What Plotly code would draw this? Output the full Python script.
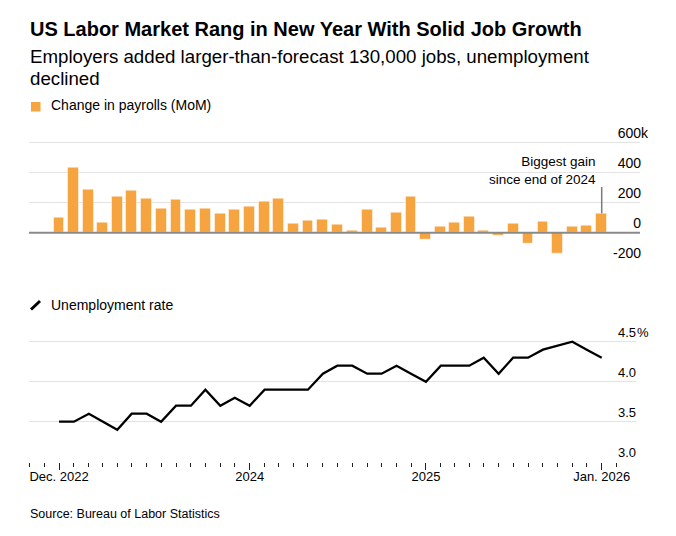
import pandas as pd
import plotly.graph_objects as go

# ---------------- data ----------------
months = pd.date_range("2022-12-01", "2026-01-01", freq="MS")
payrolls_k = [98, 433, 289, 67, 240, 280, 224, 162, 218, 156, 158, 124,
              153, 173, 207, 229, 62, 78, 87, 51, 11, 156, 33, 133,
              238, -47, 42, 67, 107, 13, -20, 62, -73, 76, -140, 40,
              49, 130]
unemployment = [3.5, 3.5, 3.6, 3.5, 3.4, 3.6, 3.6, 3.5, 3.7, 3.7, 3.9, 3.7,
                3.8, 3.7, 3.9, 3.9, 3.9, 3.9, 4.1, 4.2, 4.2, 4.1, 4.1, 4.2,
                4.1, 4.0, 4.2, 4.2, 4.2, 4.3, 4.1, 4.3, 4.3, 4.4, None, 4.5,
                4.4, 4.3]
bar_ticks = [-200, 0, 200, 400, 600]
bar_ticktext = ["-200", "0", "200", "400", "600"]
bar_suffix = "k"
rate_ticks = [3.0, 3.5, 4.0, 4.5]
rate_ticktext = ["3.0", "3.5", "4.0", "4.5"]
rate_suffix = "%"
x_tickvals = ["2022-12-01", "2024-01-01", "2025-01-01", "2026-01-01"]
x_ticktext = ["Dec. 2022", "2024", "2025", "Jan. 2026"]

title = "US Labor Market Rang in New Year With Solid Job Growth"
subtitle1 = "Employers added larger-than-forecast 130,000 jobs, unemployment"
subtitle2 = "declined"
legend_bar = "Change in payrolls (MoM)"
legend_line = "Unemployment rate"
note = "Biggest gain<br>since end of 2024"
source = "Source: Bureau of Labor Statistics"

# ---------------- layout helpers ----------------
W, H = 676, 536
FONT = "Liberation Sans, Arial, Helvetica, sans-serif"
ORANGE = "#F5A43F"


def px_x(px):
    return px / W


def px_y(py):
    return 1 - py / H


# payroll panel: -200 gridline at 262.7px, 600 gridline at 142.7px
bar_range = [-203, 720]
bar_ppu = (262.7 - 142.7) / 800.0
bar_top_px = 142.7 - (bar_range[1] - 600) * bar_ppu
bar_bot_px = 262.7 + (-200 - bar_range[0]) * bar_ppu

# rate panel: 3.0 gridline at 461.7px, 4.5 gridline at 341.7px
rate_range = [3.0, 4.72]
rate_ppu = (461.7 - 341.7) / 1.5
rate_top_px = 341.7 - (rate_range[1] - 4.5) * rate_ppu
rate_bot_px = 461.7

DAY_MS = 86400000
px_per_day = (601.7 - 59.0) / 1127.0
LEFT = 29.0
x0 = pd.Timestamp("2022-12-01") - pd.Timedelta(days=(59.0 - LEFT) / px_per_day)
x1_bar = pd.Timestamp("2026-01-01") + pd.Timedelta(days=(640.0 - 601.7) / px_per_day)
x1_line = pd.Timestamp("2026-01-01") + pd.Timedelta(days=(636.0 - 601.7) / px_per_day)

fig = go.Figure()

fig.add_trace(go.Bar(
    x=months, y=payrolls_k, xaxis="x", yaxis="y",
    marker=dict(color=ORANGE, line=dict(color="rgba(255,255,255,0.5)", width=1)),
    width=(10.9 / px_per_day) * DAY_MS,
    showlegend=False, hoverinfo="x+y",
))

fig.add_trace(go.Scatter(
    x=months, y=unemployment, xaxis="x2", yaxis="y2",
    mode="lines", connectgaps=True,
    line=dict(color="#000000", width=2.3),
    cliponaxis=False, showlegend=False,
))

grid = "#e3e3e3"
fig.update_layout(
    width=W, height=H,
    margin=dict(l=0, r=0, t=0, b=0, pad=0),
    paper_bgcolor="white", plot_bgcolor="white",
    font=dict(family=FONT, color="#000000", size=13),
    bargap=0,
    xaxis=dict(
        domain=[px_x(LEFT), px_x(640)], anchor="y", type="date",
        range=[x0, x1_bar], showgrid=False, showticklabels=False,
        ticks="", zeroline=False, showline=False,
    ),
    yaxis=dict(
        domain=[px_y(bar_bot_px), px_y(bar_top_px)], anchor="x", side="right",
        range=bar_range, tickvals=bar_ticks, ticktext=bar_ticktext,
        ticklabelposition="inside top", ticklabelstandoff=-4,
        tickfont=dict(size=14, color="#000000"),
        showgrid=True, gridcolor=grid, gridwidth=1,
        zeroline=False, showline=False, ticks="",
    ),
    xaxis2=dict(
        domain=[px_x(LEFT), px_x(636)], anchor="y2", type="date",
        range=[x0, x1_line], showgrid=False,
        tickvals=x_tickvals, ticktext=x_ticktext,
        ticks="outside", ticklen=7, tickwidth=1, tickcolor="#222222",
        ticklabelstandoff=-4,
        tickfont=dict(size=13, color="#000000"),
        minor=dict(ticks="outside", ticklen=4, tickwidth=1, tickcolor="#222222",
                   dtick="M1", tick0="2022-12-01", showgrid=False),
        showline=False, zeroline=False,
    ),
    yaxis2=dict(
        domain=[px_y(rate_bot_px), px_y(rate_top_px)], anchor="x2", side="right",
        range=rate_range, tickvals=rate_ticks, ticktext=rate_ticktext,
        ticklabelposition="inside top", ticklabelstandoff=-3,
        tickfont=dict(size=13, color="#000000"),
        showgrid=True, gridcolor=grid, gridwidth=1,
        zeroline=False, showline=False, ticks="",
    ),
)

shapes = [
    # zero line of the payroll panel
    dict(type="line", xref="x domain", yref="y", x0=0, x1=1, y0=0, y1=0,
         line=dict(color="#8a8a8a", width=2), layer="above"),
    # callout leader line
    dict(type="line", xref="x", yref="y", x0=months[-1], x1=months[-1],
         y0=payrolls_k[-1], y1=305, line=dict(color="#7a7a7a", width=1.5)),
    # legend swatch (bars)
    dict(type="rect", xref="paper", yref="paper",
         x0=px_x(31), x1=px_x(40.5), y0=px_y(111.5), y1=px_y(102),
         fillcolor=ORANGE, line=dict(width=0)),
    # legend swatch (line)
    dict(type="line", xref="paper", yref="paper",
         x0=px_x(31), x1=px_x(40), y0=px_y(309.5), y1=px_y(301),
         line=dict(color="#000000", width=3)),
]
fig.update_layout(shapes=shapes)


def text_ann(txt, px, baseline, size, bold=False, anchor="left"):
    return dict(
        text=f"<b>{txt}</b>" if bold else txt,
        xref="paper", yref="paper",
        x=px_x(px), y=px_y(baseline - 0.3465 * size),
        xanchor=anchor, yanchor="middle", showarrow=False,
        borderpad=0, align=anchor,
        font=dict(family=FONT, size=size, color="#000000"),
    )


annotations = [
    text_ann(title, 29, 36, 20, bold=True),
    text_ann(subtitle1, 29, 63.3, 18.7),
    text_ann(subtitle2, 29, 85, 18.7),
    text_ann(legend_bar, 50, 110, 14),
    text_ann(legend_line, 50, 310, 14),
    # two-line callout, centred between the two reference baselines
    dict(text=note, xref="paper", yref="paper",
         x=px_x(597), y=px_y(175.0 - 0.3465 * 13.5),
         xanchor="right", yanchor="middle", align="right", showarrow=False,
         borderpad=0, font=dict(family=FONT, size=13.5, color="#000000")),
    text_ann(source, 29, 518.3, 12.5),
    # unit suffixes hanging after the top tick labels
    dict(text=bar_suffix, xref="x domain", yref="y", x=1, y=bar_ticks[-1],
         xanchor="left", yanchor="bottom", yshift=1, showarrow=False,
         borderpad=0, font=dict(family=FONT, size=14, color="#000000")),
    dict(text=rate_suffix, xref="x2 domain", yref="y2", x=1, y=rate_ticks[-1],
         xanchor="left", yanchor="bottom", yshift=1, showarrow=False,
         borderpad=0, font=dict(family=FONT, size=13, color="#000000")),
]
fig.update_layout(annotations=annotations)

fig.write_html("out.html", config={"displayModeBar": False},
               post_script="document.body.style.margin='0px';")
